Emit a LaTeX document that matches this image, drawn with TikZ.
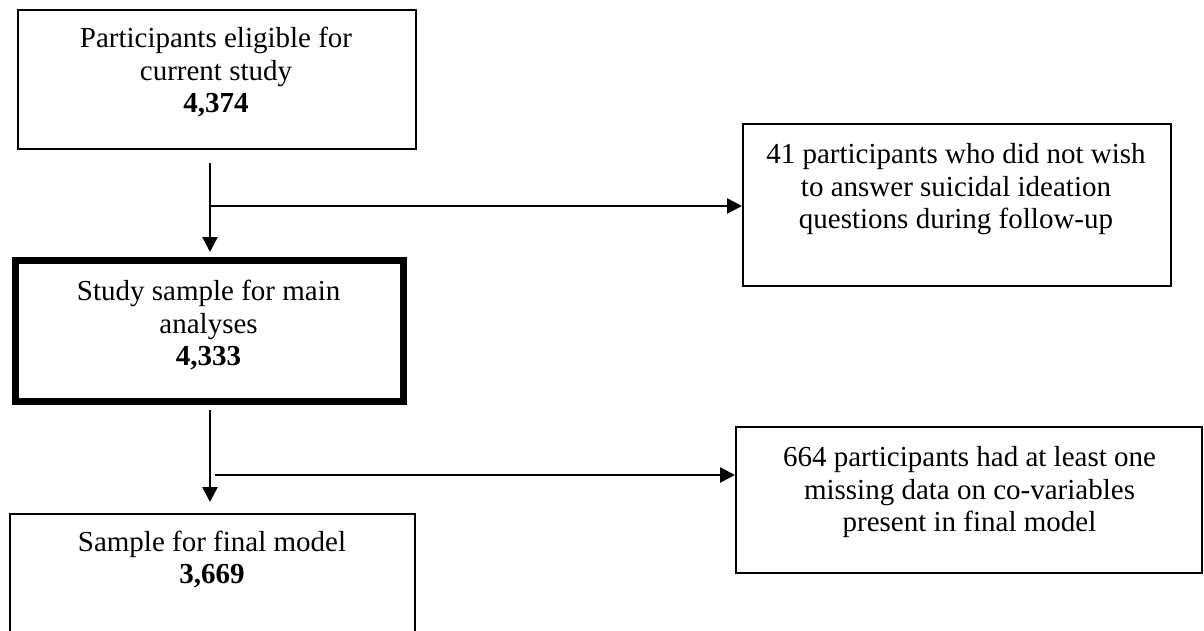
\documentclass[tikz,border=0pt]{standalone}
\usepackage{fontspec}
\setmainfont{Liberation Serif}
\usetikzlibrary{fit,arrows.meta}
\begin{document}
\begin{tikzpicture}[x=0.5pt,y=-0.5pt,
  boxstyle/.style={draw=black, line width=1pt, inner sep=0pt},
  thickbox/.style={draw=black, line width=3.5pt, inner sep=0pt},
  txt/.style={anchor=north, inner sep=0pt, align=center,
    font=\fontsize{14.5pt}{16.25pt}\selectfont},
  arr/.style={line width=1.25pt, -{Triangle[length=7.5pt,width=7.5pt]}}]
\useasboundingbox (0,0) rectangle (1204,631);
\clip (0,0) rectangle (1204,631);
% boxes
\node[boxstyle, fit={(17.7,10) (415.5,149)}] (box1) {};
\node[thickbox, fit={(15,260) (403.5,401)}] (box2) {};
\node[boxstyle, fit={(10,514) (414.5,660)}] (box3) {};
\node[boxstyle, fit={(743,124) (1171,286)}] (rbox1) {};
\node[boxstyle, fit={(736,427) (1202,573)}] (rbox2) {};
% texts
\node[txt] (t1) at (216,27) {Participants eligible for\\current study\\\textbf{4,374}};
\node[txt] (t2) at (208.6,280) {Study sample for main\\analyses\\\textbf{4,333}};
\node[txt] (t3) at (212,530.5) {Sample for final model\\\textbf{3,669}};
\node[txt] (tr1) at (956,143) {41 participants who did not wish\\to answer suicidal ideation\\questions during follow-up};
\node[txt] (tr2) at (969.5,446) {664 participants had at least one\\missing data on co-variables\\present in final model};
% connectors
\coordinate (s1) at (210,163);
\coordinate (e1) at (210,252);
\coordinate (br1) at (210,206);
\coordinate (s2) at (210,410);
\coordinate (e2) at (210,502);
\coordinate (br2) at (215,475);
\draw[arr] (s1) -- (e1);
\draw[arr] (br1) -- (br1 -| rbox1.west);
\draw[arr] (s2) -- (e2);
\draw[arr] (br2) -- (br2 -| rbox2.west);
\end{tikzpicture}
\end{document}
